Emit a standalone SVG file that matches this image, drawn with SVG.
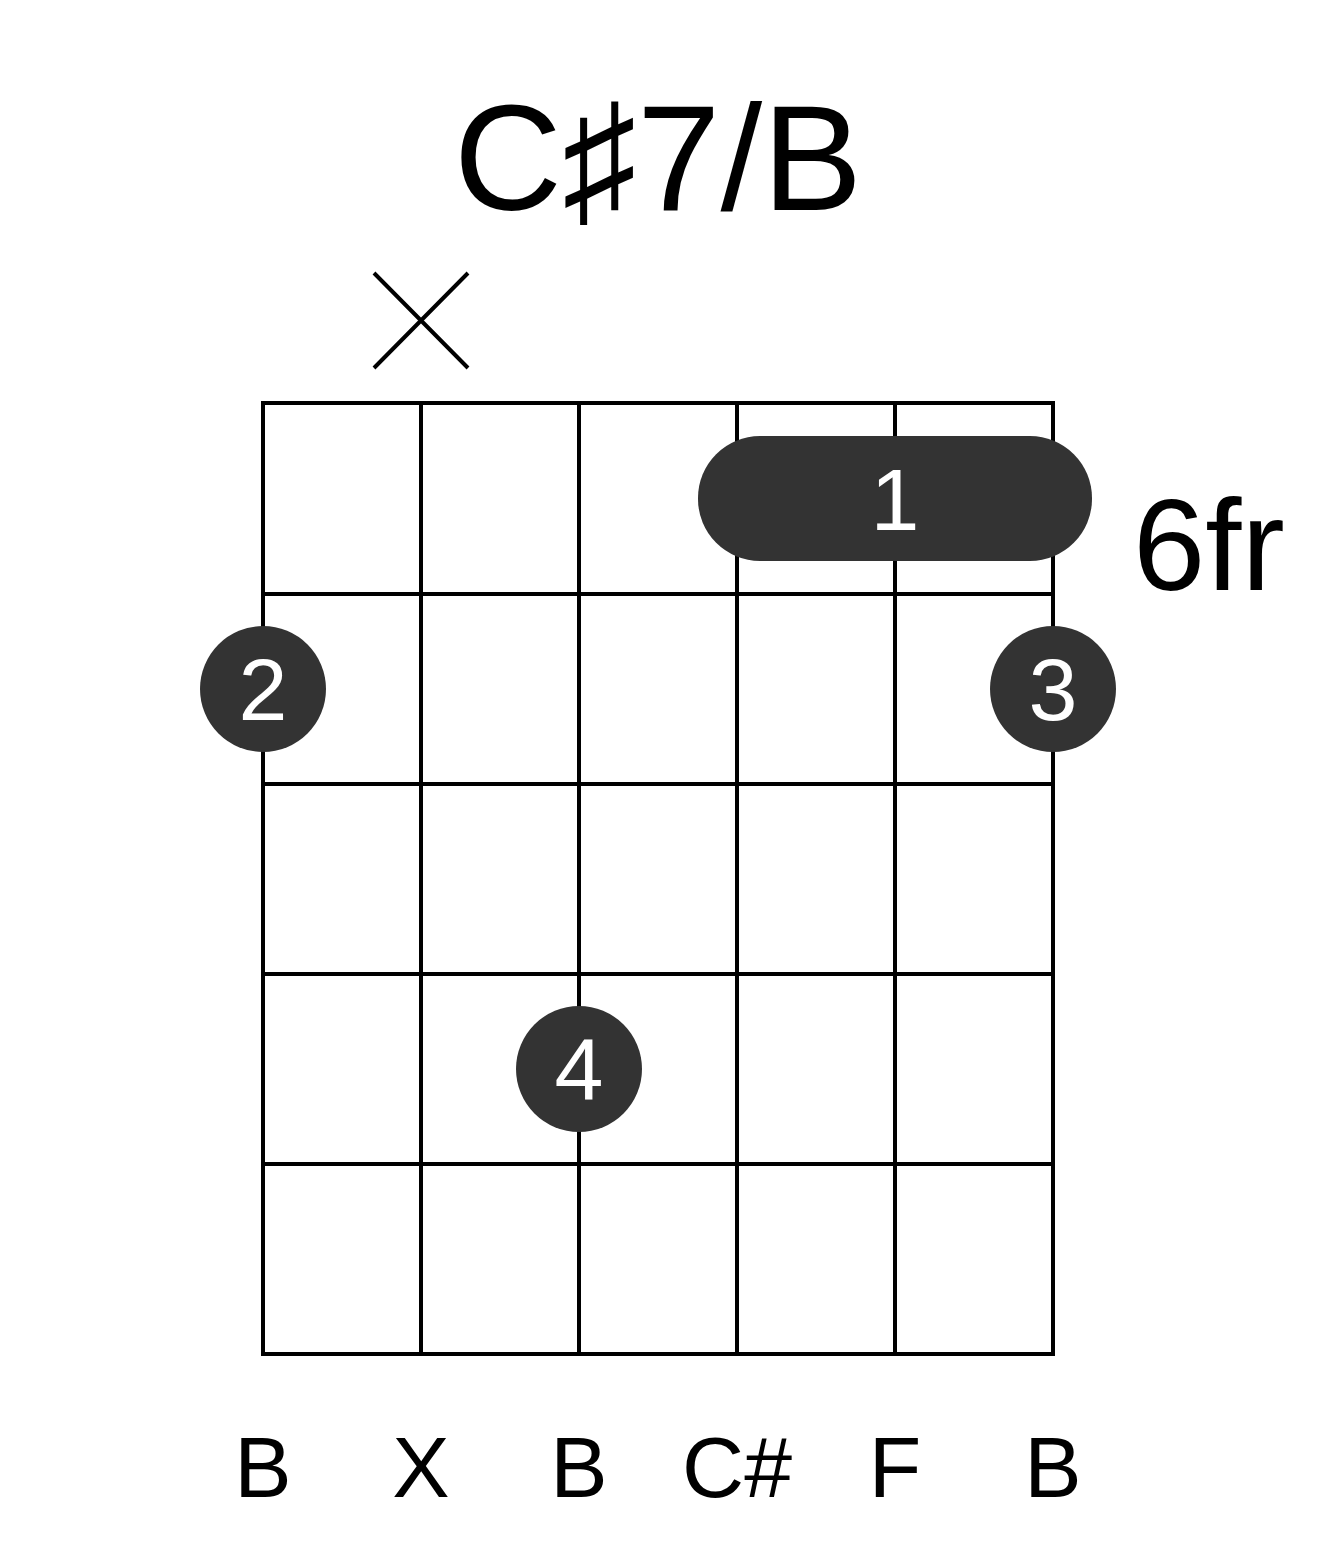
<svg xmlns="http://www.w3.org/2000/svg" width="1317" height="1551" viewBox="0 0 1317 1551">
<style>
.g{stroke:#000;stroke-width:4;fill:none}
.d{fill:#333}
.t{font-family:"Liberation Sans",Arial,sans-serif;text-anchor:middle}
.w{fill:#fff;font-size:88px}
.n{fill:#000;font-size:86px}
</style>
<rect width="1317" height="1551" fill="#fff"/>
<text class="t" x="658" y="210" font-size="150">C♯7/B</text>
<text font-family="Liberation Sans,Arial,sans-serif" x="1133" y="590" font-size="130">6fr</text>
<g id="mute"><path class="g" d="M374 273L468 368M468 273L374 368"/></g>
<g id="grid">
<rect class="g" x="263" y="403" width="790" height="951"/>
<path class="g" d="M421 403V1354M579 403V1354M737 403V1354M895 403V1354M263 594H1053M263 784H1053M263 974H1053M263 1164H1053"/>
</g>
<g id="barre"><rect class="d" x="698" y="436" width="394" height="125" rx="62"/><text class="t w" x="895" y="530">1</text></g>
<g id="f2"><circle class="d" cx="263" cy="689" r="63"/><text class="t w" x="263" y="720">2</text></g>
<g id="f3"><circle class="d" cx="1053" cy="689" r="63"/><text class="t w" x="1053" y="720">3</text></g>
<g id="f4"><circle class="d" cx="579" cy="1069" r="63"/><text class="t w" x="579" y="1100">4</text></g>
<g id="labels">
<text class="t n" x="263" y="1497">B</text>
<text class="t n" x="421" y="1497">X</text>
<text class="t n" x="579" y="1497">B</text>
<text class="t n" x="737" y="1497">C#</text>
<text class="t n" x="895" y="1497">F</text>
<text class="t n" x="1053" y="1497">B</text>
</g>
</svg>
